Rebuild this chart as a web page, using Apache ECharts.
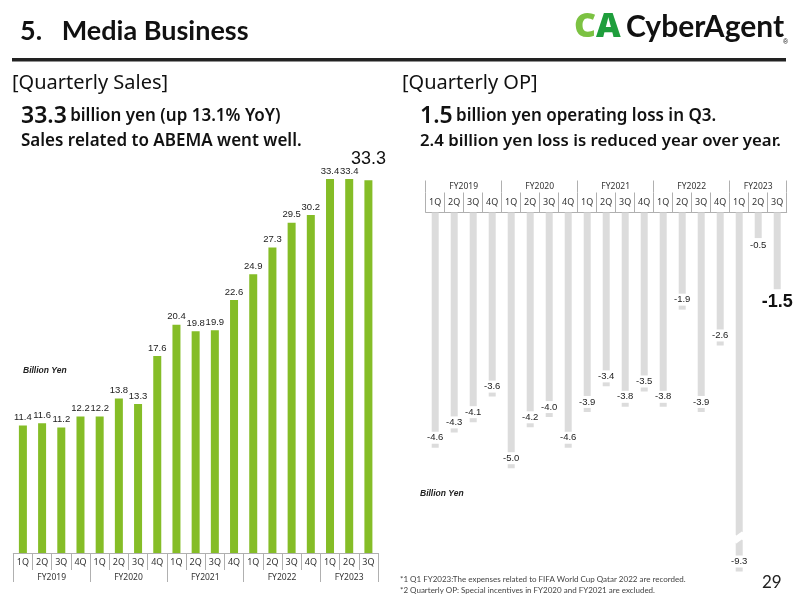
<!DOCTYPE html>
<html>
<head>
<meta charset="utf-8">
<script src="https://cdn.jsdelivr.net/npm/echarts@6.0.0/dist/echarts.min.js"></script>
<style>
html, body { margin: 0; padding: 0; background: #fff; }
#main { width: 800px; height: 600px; }
</style>
</head>
<body>
<div id="main"></div>
<script>
// data
var fiscalYears = ['FY2019', 'FY2020', 'FY2021', 'FY2022', 'FY2023'];
var quartersPerYear = [4, 4, 4, 4, 3];
var quarters = ['1Q', '2Q', '3Q', '4Q', '1Q', '2Q', '3Q', '4Q', '1Q', '2Q', '3Q', '4Q',
	'1Q', '2Q', '3Q', '4Q', '1Q', '2Q', '3Q'];
var sales = [11.4, 11.6, 11.2, 12.2, 12.2, 13.8, 13.3, 17.6, 20.4, 19.8, 19.9, 22.6,
	24.9, 27.3, 29.5, 30.2, 33.4, 33.4, 33.3];
var op = [-4.6, -4.3, -4.1, -3.6, -5.0, -4.2, -4.0, -4.6, -3.9, -3.4, -3.8, -3.5,
	-3.8, -1.9, -3.9, -2.6, -9.3, -0.5, -1.5];

// fiscal year boundaries / centres on the quarter scale
var fyBounds = [0];
var fyCenters = [];
for (var i = 0; i < quartersPerYear.length; i++) {
	var s = fyBounds[fyBounds.length - 1];
	fyCenters.push(s + quartersPerYear[i] / 2);
	fyBounds.push(s + quartersPerYear[i]);
}

var titleFont = 'Lato, "Noto Sans", sans-serif';
var headFont = '"Noto Sans", Lato, sans-serif';
var numFont = '"Liberation Sans", Arial, sans-serif';
var lineCol = '#b0b0b0';

function fyLabel(v) {
	var k = fyCenters.indexOf(v);
	return k >= 0 ? fiscalYears[k] : '';
}

// sales series data, the latest quarter gets the big label
var salesData = sales.map(function(v, i) {
	if (i == sales.length - 1) {
		return { value: v, label: { fontSize: 18, distance: 12, color: '#111' } };
	}
	return v;
});

// op series data: short bar label below, latest quarter big label below
var opData = op.map(function(v, i) {
	if (i == op.length - 1) {
		return { value: v, label: { position: 'bottom', distance: 3, fontSize: 18, fontWeight: 'bold',
			backgroundColor: 'transparent', color: '#111' } };
	}
	if (v > -1) {
		return { value: v, label: { position: 'bottom', distance: 1 } };
	}
	return v;
});

var chart = echarts.init(document.getElementById('main'));
var option = {
	backgroundColor: '#fff',
	animation: false,
	grid: [
		{ left: 13.3, right: 422, top: 150, bottom: 47 },
		{ left: 425.7, right: 13.3, top: 212.5, bottom: 28.5 }
	],
	xAxis: [
		{ // quarter row, sales
			type: 'category', gridIndex: 0, position: 'bottom', data: quarters,
			axisLine: { lineStyle: { color: lineCol, width: 1 } },
			axisTick: { show: true, interval: 0, alignWithLabel: false, length: 17, lineStyle: { color: lineCol } },
			axisLabel: { margin: 5, fontSize: 9, color: '#333', fontFamily: headFont, interval: 0 }
		},
		{ // fiscal year row, sales
			type: 'value', gridIndex: 0, position: 'bottom', offset: 17, min: 0, max: 19,
			axisLine: { show: false },
			splitLine: { show: false },
			axisTick: { show: true, customValues: fyBounds, length: 12, lineStyle: { color: lineCol } },
			axisLabel: { customValues: fyCenters, formatter: fyLabel, margin: 3, fontSize: 8.5,
				color: '#333', fontFamily: headFont }
		},
		{ // quarter row, op
			type: 'category', gridIndex: 1, position: 'top', data: quarters,
			axisLine: { lineStyle: { color: lineCol, width: 1 } },
			axisTick: { show: true, interval: 0, alignWithLabel: false, length: 20, lineStyle: { color: lineCol } },
			axisLabel: { margin: 6, fontSize: 9, color: '#333', fontFamily: headFont, interval: 0 }
		},
		{ // fiscal year row, op
			type: 'value', gridIndex: 1, position: 'top', offset: 32, min: 0, max: 19,
			axisLine: { show: false },
			splitLine: { show: false },
			axisTick: { show: true, inside: true, customValues: fyBounds, length: 12, lineStyle: { color: lineCol } },
			axisLabel: { inside: true, customValues: fyCenters, formatter: fyLabel, margin: 2, fontSize: 8.5,
				color: '#333', fontFamily: headFont }
		}
	],
	yAxis: [
		{ type: 'value', gridIndex: 0, min: 0, max: 36, show: false },
		{
			type: 'value', gridIndex: 1, min: -9.3, max: 0,
			axisLine: { show: false }, axisTick: { show: false }, axisLabel: { show: false },
			splitLine: { show: false },
			breaks: [{ start: -8.7, end: -6.27, gap: 0.15 }],
			breakArea: {
				show: true,
				itemStyle: { color: '#fff', borderColor: 'transparent', borderWidth: 0, opacity: 1 },
				zigzagAmplitude: 2, zigzagMinSpan: 5, zigzagMaxSpan: 6, zigzagZ: 100,
				expandOnClick: false
			}
		}
	],
	series: [
		{
			name: 'Quarterly Sales', type: 'bar', xAxisIndex: 0, yAxisIndex: 0,
			barWidth: 8, data: salesData,
			itemStyle: { color: '#85bd27' },
			label: { show: true, position: 'top', distance: 3, fontSize: 9.5, color: '#222', fontFamily: numFont,
				formatter: function(p) { return p.value.toFixed(1); } }
		},
		{
			name: 'Quarterly OP', type: 'bar', xAxisIndex: 2, yAxisIndex: 1,
			barWidth: 7, data: opData,
			itemStyle: { color: '#dcdcdc' },
			label: { show: true, position: 'insideBottom', distance: 4, fontSize: 9.5, color: '#222', fontFamily: numFont,
				backgroundColor: '#fff', padding: [1, 1],
				formatter: function(p) { return p.value.toFixed(1); } }
		}
	],
	graphic: [
		{ type: 'text', left: 20, top: 18, style: { text: '5.   Media Business', font: 'bold 27px ' + titleFont, fill: '#111' } },
		{ type: 'rect', shape: { x: 12, y: 58, width: 774, height: 3.5 }, style: { fill: '#222' } },
		{ type: 'text', left: 574, top: 10, style: { text: '{c|C}{a|A}', rich: {
			c: { font: '900 34px ' + headFont, fill: '#7cc242' },
			a: { font: '900 34px ' + headFont, fill: '#1f9e3c' } } } },
		{ type: 'text', left: 626, top: 12, style: { text: 'CyberAgent', font: 'bold 30px ' + titleFont, fill: '#111' } },
		{ type: 'text', left: 783, top: 39, style: { text: '®', font: '7px ' + numFont, fill: '#111' } },

		{ type: 'text', left: 12, top: 73, style: { text: '[Quarterly Sales]', font: '20px ' + headFont, fill: '#111' } },
		{ type: 'text', left: 21, top: 105, style: { text: '{b|33.3} {m|billion yen (up 13.1% YoY)}', rich: {
			b: { font: '600 23px ' + headFont, fill: '#111' },
			m: { font: '600 17px ' + headFont, fill: '#111' } } } },
		{ type: 'text', left: 21, top: 133, style: { text: 'Sales related to ABEMA went well.', font: '600 17px ' + headFont, fill: '#111' } },

		{ type: 'text', left: 402, top: 73, style: { text: '[Quarterly OP]', font: '20px ' + headFont, fill: '#111' } },
		{ type: 'text', left: 420, top: 105, style: { text: '{b|1.5} {m|billion yen operating loss in Q3.}', rich: {
			b: { font: '600 23px ' + headFont, fill: '#111' },
			m: { font: '600 17px ' + headFont, fill: '#111' } } } },
		{ type: 'text', left: 420, top: 133, style: { text: '2.4 billion yen loss is reduced year over year.', font: '600 16.8px ' + headFont, fill: '#111' } },

		{ type: 'text', left: 23, top: 366, style: { text: 'Billion Yen', font: 'italic bold 8.5px ' + numFont, fill: '#222' } },
		{ type: 'text', left: 420, top: 489, style: { text: 'Billion Yen', font: 'italic bold 8.5px ' + numFont, fill: '#222' } },

		{ type: 'text', left: 400, top: 575, style: { text: '*1 Q1 FY2023:The expenses related to FIFA World Cup Qatar 2022 are recorded.', font: '8px ' + titleFont, fill: '#444' } },
		{ type: 'text', left: 400, top: 586, style: { text: '*2 Quarterly OP: Special incentives in FY2020 and FY2021 are excluded.', font: '8px ' + titleFont, fill: '#444' } },
		{ type: 'text', left: 762, top: 574, style: { text: '29', font: '17px ' + titleFont, fill: '#222' } }
	]
};
chart.setOption(option);
</script>
</body>
</html>
